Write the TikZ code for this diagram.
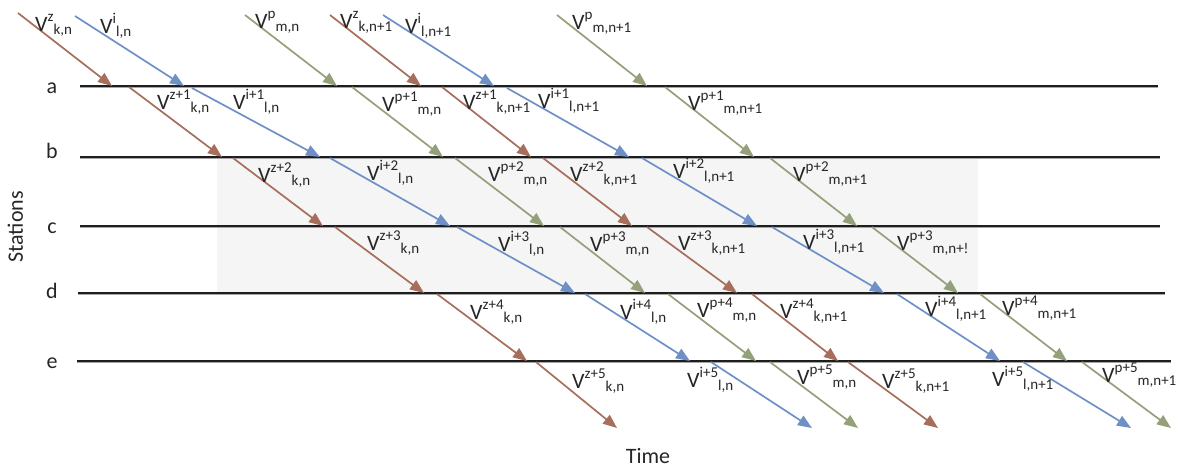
\documentclass[tikz,border=0pt]{standalone}
\usepackage{fontspec}
\setmainfont{Carlito}
\usetikzlibrary{arrows.meta}
\definecolor{cbrown}{RGB}{166,110,91}
\definecolor{cblue}{RGB}{110,144,199}
\definecolor{cgreen}{RGB}{148,160,122}
\definecolor{cline}{RGB}{30,30,30}
\newcommand\vv[2]{V\raisebox{10pt}{\fontsize{15}{17}\selectfont #1}\raisebox{-3pt}{\fontsize{15}{17}\selectfont #2}}
\newcommand\seg[4]{\coordinate (#1s) at (#3); \coordinate (#1e) at (#4); \draw[#2] (#1s) -- (#1e);}
\newcommand\vl[4]{\node[lab] (#1) at (#2) {\vv{#3}{#4}};}
\newcommand\stn[5]{%
  \coordinate (#1w) at (#2,#4); \coordinate (#1e) at (#3,#4);
  \draw[shadow] ([yshift=-1.3pt]#1w) -- ([yshift=-1.3pt]#1e);
  \draw[stline] (#1w) -- (#1e);
  \node[stlab] (#1l) at (52,#5) {#1};}
\tikzset{
  x=1pt, y=-1pt,
  arr/.style={line width=1.7pt, -{Triangle[length=14pt,width=11pt]}},
  brn/.style={arr, cbrown},
  blu/.style={arr, cblue},
  grn/.style={arr, cgreen},
  stline/.style={cline, line width=1.8pt},
  shadow/.style={black!35, line width=1.2pt},
  lab/.style={anchor=base west, inner sep=0pt, text=black!85, font=\fontsize{22}{26}\selectfont},
  stlab/.style={anchor=base, inner sep=0pt, text=black!85, font=\fontsize{22}{26}\selectfont},
  axlab/.style={inner sep=0pt, text=black!85, font=\fontsize{22}{26}\selectfont},
}
\begin{document}
\begin{tikzpicture}
\useasboundingbox (0,0) rectangle (1177,467);
% shaded window
\fill[black!4] (217,158) rectangle (978,293);
% stations
\stn{a}{80}{1158}{86}{93}
\stn{b}{80}{1160}{157}{158}
\stn{c}{80}{1160}{226}{233}
\stn{d}{78}{1165}{293}{298}
\stn{e}{77}{1171}{361}{368}
% axis labels
\node[axlab, rotate=90, anchor=base] (stations) at (23,227) {Stations};
\node[axlab, anchor=base] (time) at (648,463) {Time};
% brown chain n
\seg{k0}{brn}{18,13}{112,86}
\seg{k1}{brn}{129,87}{222,157}
\seg{k2}{brn}{233,158}{323,226}
\seg{k3}{brn}{335,227}{424,293}
\seg{k4}{brn}{437,294}{527,361}
\seg{k5}{brn}{536,362}{617,428}
% blue chain n
\seg{l0}{blu}{75,16}{184,86}
\seg{l1}{blu}{192,88}{320,157}
\seg{l2}{blu}{330,158}{450,226}
\seg{l3}{blu}{457,227}{575,293}
\seg{l4}{blu}{585,294}{690,361}
\seg{l5}{blu}{711,362}{812,428}
% green chain n
\seg{m0}{grn}{245,15}{337,86}
\seg{m1}{grn}{352,87}{443,157}
\seg{m2}{grn}{455,158}{544,226}
\seg{m3}{grn}{560,227}{645,293}
\seg{m4}{grn}{668,294}{756,361}
\seg{m5}{grn}{770,362}{858,428}
% brown chain n+1
\seg{K0}{brn}{330,15}{421,86}
\seg{K1}{brn}{442,87}{531,157}
\seg{K2}{brn}{543,158}{632,226}
\seg{K3}{brn}{647,227}{737,293}
\seg{K4}{brn}{752,294}{838,361}
\seg{K5}{brn}{848,362}{938,428}
% blue chain n+1
\seg{L0}{blu}{383,15}{494,86}
\seg{L1}{blu}{507,88}{629,157}
\seg{L2}{blu}{642,158}{757,226}
\seg{L3}{blu}{772,227}{884,293}
\seg{L4}{blu}{897,294}{1000,361}
\seg{L5}{blu}{1023,362}{1131,428}
% green chain n+1
\seg{M0}{grn}{557,15}{647,86}
\seg{M1}{grn}{665,87}{754,157}
\seg{M2}{grn}{770,158}{857,226}
\seg{M3}{grn}{872,227}{958,293}
\seg{M4}{grn}{980,294}{1067,361}
\seg{M5}{grn}{1082,362}{1171,428}
% labels row 0
\vl{t0a}{35,31.5}{z}{k,n}
\vl{t0b}{100,33.5}{i}{l,n}
\vl{t0c}{255,28.5}{p}{m,n}
\vl{t0d}{340,28.5}{z}{k,n+1}
\vl{t0e}{405,33.5}{i}{l,n+1}
\vl{t0f}{572,29.5}{p}{m,n+1}
% row 1
\vl{t1a}{157,109.5}{z+1}{k,n}
\vl{t1b}{233,109.5}{i+1}{l,n}
\vl{t1c}{382,111.5}{p+1}{m,n}
\vl{t1d}{463,109.5}{z+1}{k,n+1}
\vl{t1e}{538,108.5}{i+1}{l,n+1}
\vl{t1f}{688,110.5}{p+1}{m,n+1}
% row 2
\vl{t2a}{258,182.5}{z+2}{k,n}
\vl{t2b}{367,180.5}{i+2}{l,n}
\vl{t2c}{488,181.5}{p+2}{m,n}
\vl{t2d}{570,181.5}{z+2}{k,n+1}
\vl{t2e}{673,178.5}{i+2}{l,n+1}
\vl{t2f}{793,181.5}{p+2}{m,n+1}
% row 3
\vl{t3a}{367,250.5}{z+3}{k,n}
\vl{t3b}{498,251.5}{i+3}{l,n}
\vl{t3c}{590,251.5}{p+3}{m,n}
\vl{t3d}{678,250.5}{z+3}{k,n+1}
\vl{t3e}{803,249.5}{i+3}{l,n+1}
\vl{t3f}{897,250.5}{p+3}{m,n+!}
% row 4
\vl{t4a}{470,319.5}{z+4}{k,n}
\vl{t4b}{620,319.5}{i+4}{l,n}
\vl{t4c}{697,317.5}{p+4}{m,n}
\vl{t4d}{780,318.5}{z+4}{k,n+1}
\vl{t4e}{925,316.5}{i+4}{l,n+1}
\vl{t4f}{1002,315.5}{p+4}{m,n+1}
% row 5
\vl{t5a}{572,388.5}{z+5}{k,n}
\vl{t5b}{687,387.5}{i+5}{l,n}
\vl{t5c}{797,384.5}{p+5}{m,n}
\vl{t5d}{882,388.5}{z+5}{k,n+1}
\vl{t5e}{992,386.5}{i+5}{l,n+1}
\vl{t5f}{1102,382.5}{p+5}{m,n+1}
\end{tikzpicture}
\end{document}
